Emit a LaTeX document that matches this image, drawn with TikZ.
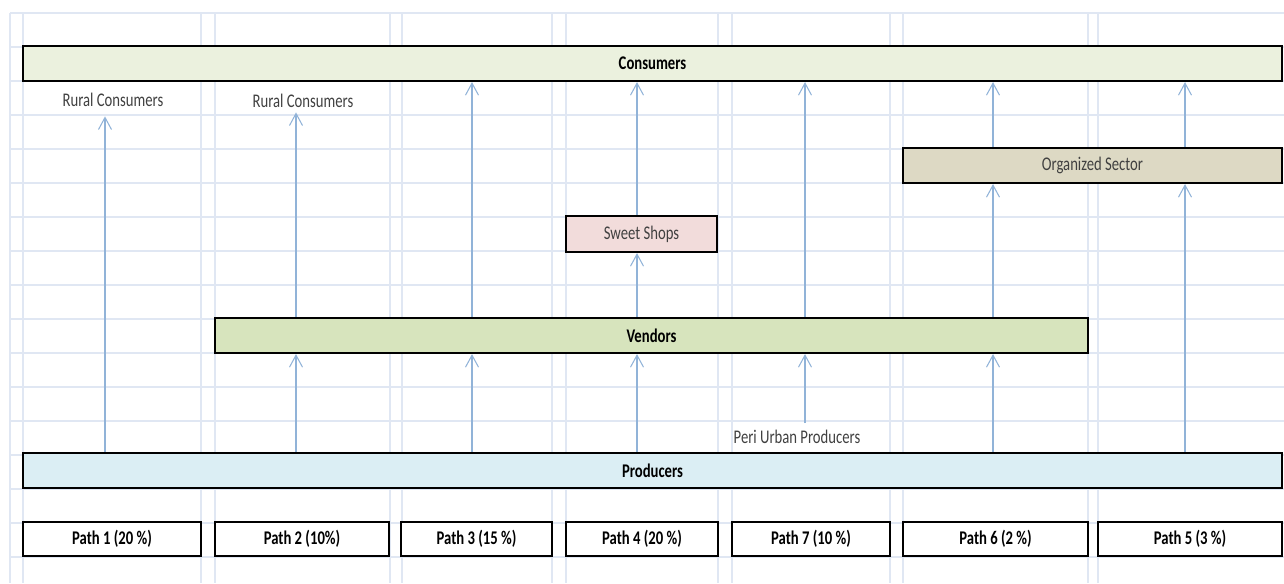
\documentclass[tikz,border=0pt]{standalone}
\usepackage{fontspec}
\setmainfont{Carlito}[FakeStretch=0.76]
\usetikzlibrary{arrows.meta}
\definecolor{gridcol}{RGB}{224,231,243}
\definecolor{flowcol}{RGB}{145,179,216}
\definecolor{consfill}{RGB}{235,241,222}
\definecolor{vendfill}{RGB}{215,228,189}
\definecolor{prodfill}{RGB}{219,238,244}
\definecolor{orgfill}{RGB}{221,217,196}
\definecolor{shopfill}{RGB}{242,220,219}
\definecolor{labelcol}{RGB}{64,64,64}
\tikzset{
  box/.style={draw=black,line width=1.2pt,minimum height=0.7cm,inner sep=0pt,text=labelcol,font=\fontsize{11}{13}\selectfont},
  boldbox/.style={box,text=black,font=\fontsize{11}{13}\selectfont\bfseries},
  pathbox/.style={boldbox,fill=white,minimum height=0.68cm},
  flow/.style={draw=flowcol,line width=0.6pt,-{Straight Barb[length=0.24cm,width=0.26cm]}},
  lbl/.style={text=labelcol,font=\fontsize{11}{13}\selectfont,inner sep=1pt}
}

\begin{document}
\begin{tikzpicture}[x=0.02cm,y=-0.02cm]
\useasboundingbox (0,0) rectangle (1284,583);

\foreach \r in {0,...,16} \draw[gridcol,line width=0.8pt] (10,13+34*\r) -- (1284,13+34*\r);
\foreach \c in {10,23,201,215,390,402,552,566,718,732,890,903,1088,1098} \draw[gridcol,line width=0.8pt] (\c,13) -- (\c,583);

\node[boldbox,fill=consfill,minimum width=25.18cm] (cons) at (652.5,63.5) {Consumers};
\node[box,fill=orgfill,minimum width=7.58cm] (orgs) at (1092.5,165.5) {Organized Sector};
\node[box,fill=shopfill,minimum width=3.02cm,minimum height=0.72cm] (sweet) at (641.5,234) {Sweet Shops};
\node[boldbox,fill=vendfill,minimum width=17.46cm] (vend) at (651.5,335.5) {Vendors};
\node[boldbox,fill=prodfill,minimum width=25.18cm] (prod) at (652.5,470.5) {Producers};

\node[pathbox,minimum width=3.56cm] (path1) at (112,539) {Path 1 (20 \%)};
\node[pathbox,minimum width=3.48cm] (path2) at (302,539) {Path 2 (10\%)};
\node[pathbox,minimum width=3.02cm] (path3) at (476.5,539) {Path 3 (15 \%)};
\node[pathbox,minimum width=3.04cm] (path4) at (642,539) {Path 4 (20 \%)};
\node[pathbox,minimum width=3.16cm] (path7) at (811,539) {Path 7 (10 \%)};
\node[pathbox,minimum width=3.70cm] (path6) at (995.5,539) {Path 6 (2 \%)};
\node[pathbox,minimum width=3.68cm] (path5) at (1190,539) {Path 5 (3 \%)};

\node[lbl] (rural1) at (113,100) {Rural Consumers};
\node[lbl] (rural2) at (303,101) {Rural Consumers};
\node[lbl] (peri) at (797,437) {Peri Urban Producers};

\coordinate (c1) at (105,0);
\coordinate (c2) at (296,0);
\coordinate (c3) at (472,0);
\coordinate (c4) at (637,0);
\coordinate (c7) at (805,0);
\coordinate (c6) at (993,0);
\coordinate (c5) at (1185,0);

\draw[flow] (prod.north -| c1) -- ([yshift=-0.15cm]rural1.south -| c1);
\draw[flow] (prod.north -| c2) -- (vend.south -| c2);
\draw[flow] (vend.north -| c2) -- ([yshift=-0.05cm]rural2.south -| c2);
\draw[flow] (prod.north -| c3) -- (vend.south -| c3);
\draw[flow] (vend.north -| c3) -- (cons.south -| c3);
\draw[flow] (prod.north -| c4) -- (vend.south -| c4);
\draw[flow] (vend.north -| c4) -- (sweet.south -| c4);
\draw[flow] (sweet.north -| c4) -- (cons.south -| c4);
\draw[flow] ([yshift=0.1cm]peri.north -| c7) -- (vend.south -| c7);
\draw[flow] (vend.north -| c7) -- (cons.south -| c7);
\draw[flow] (prod.north -| c6) -- (vend.south -| c6);
\draw[flow] (vend.north -| c6) -- (orgs.south -| c6);
\draw[flow] (orgs.north -| c6) -- (cons.south -| c6);
\draw[flow] (prod.north -| c5) -- (orgs.south -| c5);
\draw[flow] (orgs.north -| c5) -- (cons.south -| c5);
\end{tikzpicture}
\end{document}
